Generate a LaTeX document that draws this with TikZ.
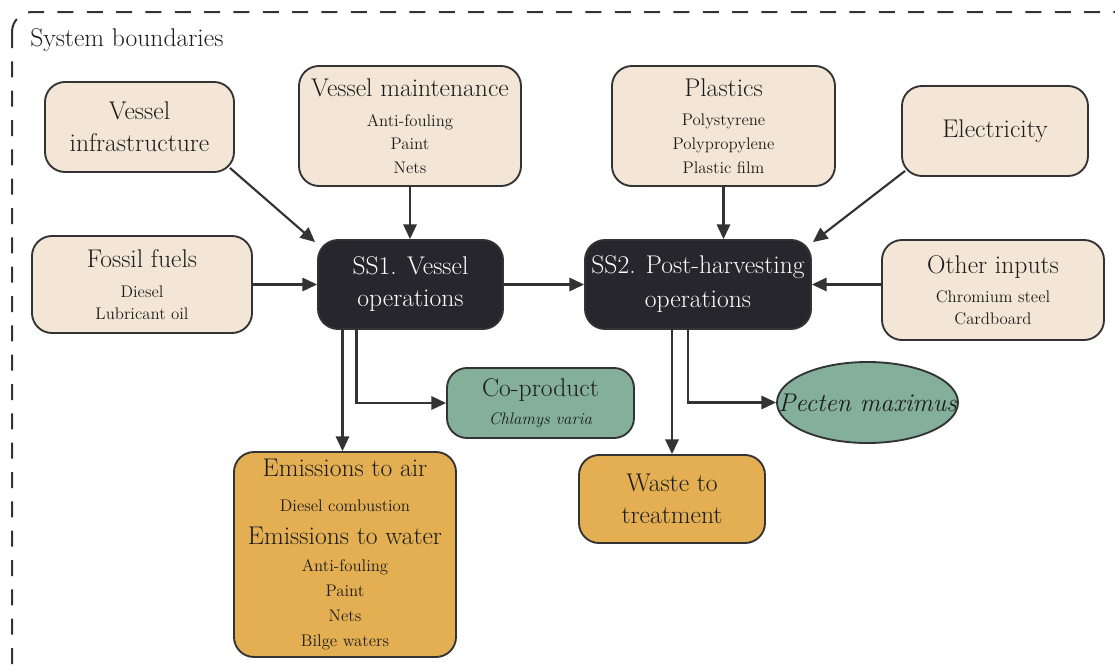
\documentclass[tikz,border=0pt]{standalone}
\usepackage{fontspec}
\newcommand{\titlef}{\rmfamily\fontsize{19.2}{24}\selectfont}
\newcommand{\subf}{\rmfamily\fontsize{12.6}{17.6}\selectfont}
\usetikzlibrary{calc,arrows.meta,shapes.geometric}
\definecolor{beige}{RGB}{243,230,214}
\definecolor{sgreen}{RGB}{132,176,155}
\definecolor{sorange}{RGB}{227,175,82}
\definecolor{darkbox}{RGB}{38,38,44}
\definecolor{ink}{RGB}{51,51,51}
\definecolor{txt}{RGB}{28,28,28}
\tikzset{
  wh/.style 2 args={minimum width=#1*0.75pt, minimum height=#2*0.75pt},
  box/.style={draw=ink, line width=1.4pt, rounded corners=15pt, align=center, inner sep=0pt, text=txt, font=\subf},
  inbox/.style={box, fill=beige},
  proc/.style={box, fill=darkbox, text=white, font=\titlef},
  outbox/.style={box, fill=sorange},
  prodbox/.style={box, fill=sgreen},
  arr/.style={draw=ink, line width=1.6pt, -{Triangle[length=11pt,width=10pt]}}
}
\begin{document}
\begin{tikzpicture}[x=0.75pt,y=-0.75pt]
\useasboundingbox (0,0) rectangle (1115,668);
\begin{scope}
  \clip (0,0) rectangle (1115,668);
  \draw[ink, line width=1.5pt, dash pattern=on 12pt off 10pt, rounded corners=15pt] (12,12) rectangle (1135,688);
\end{scope}
\node[anchor=west, font=\titlef, text=txt, inner sep=0pt] (sb) at (30,40) {System boundaries};

\node[inbox, wh={189}{90}, font=\titlef] (infra) at (139.5,127) {Vessel\\infrastructure};
\node[inbox, wh={222}{120}] (maint) at (410,126) {{\titlef Vessel maintenance}\\[4.9pt]Anti-fouling\\Paint\\Nets};
\node[inbox, wh={220}{97}] (fossil) at (142,284.5) {{\titlef Fossil fuels}\\[4.9pt]Diesel\\[-1.1pt]Lubricant oil};
\node[proc, wh={185}{89}] (ss1) at (410.5,284.5) {SS1. Vessel\\operations};
\node[inbox, wh={223}{120}] (plast) at (723.5,126) {{\titlef Plastics}\\[4.1pt]Polystyrene\\[0.4pt]Polypropylene\\[0.4pt]Plastic film};
\node[inbox, wh={186}{90}, font=\titlef] (elec) at (995,131) {Electricity};
\node[proc, wh={226}{89}] (ss2) at (698,284.5) {SS2. Post-harvesting\\[1.5pt]operations};
\node[inbox, wh={222}{100}] (other) at (993,290) {{\titlef Other inputs}\\[4.1pt]Chromium steel\\[-1.1pt]Cardboard};
\node[prodbox, wh={187}{70}] (coprod) at (540.5,403) {{\titlef Co-product}\\[3.4pt]\textit{Chlamys varia}};
\node[draw=ink, line width=1.4pt, fill=sgreen, ellipse, inner sep=0pt, wh={181}{81}, text=txt, font=\titlef\itshape] (pecten) at (867.5,402.5) {\makebox[0pt]{Pecten maximus}};
\node[outbox, wh={222}{205}] (emis) at (345,554.5) {{\titlef Emissions to air}\\[8.6pt]Diesel combustion\\[7.1pt]{\titlef Emissions to water}\\[2.6pt]Anti-fouling\\[1.1pt]Paint\\[1.1pt]Nets\\[1.1pt]Bilge waters};
\node[outbox, wh={186}{88}, font=\titlef] (waste) at (672,499) {Waste to\\treatment};

\draw[arr] ($(infra.south east)+(-5,-5)$) -- ($(ss1.north west)+(-2,3)$);
\draw[arr] (maint.south) -- (maint.south |- ss1.north);
\draw[arr] (fossil.east |- ss1.west) -- (ss1.west);
\draw[arr] (ss1.east) -- (ss2.west);
\draw[arr] (plast.south) -- (plast.south |- ss2.north);
\draw[arr] ($(elec.south west)+(4,-6)$) -- ($(ss2.north east)+(1,3)$);
\draw[arr] (other.west |- ss2.east) -- (ss2.east);
\coordinate (e1) at ($(ss1.south)+(-68,0)$);
\draw[arr] (e1) -- (e1 |- emis.north);
\draw[arr] ($(ss1.south)+(-54,0)$) |- (coprod.west);
\draw[arr] (ss2.south -| waste.north) -- (waste.north);
\draw[arr] ($(ss2.south)+(-10,0)$) |- (pecten.west);
\end{tikzpicture}
\end{document}
